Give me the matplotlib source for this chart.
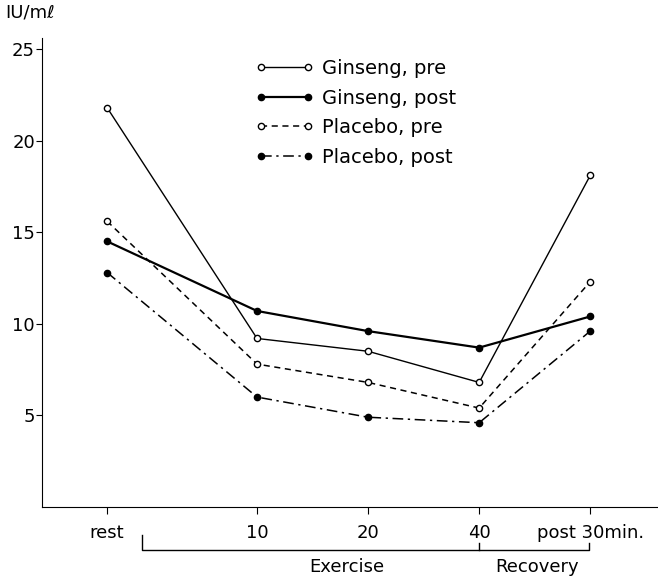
import matplotlib.pyplot as plt
from matplotlib.transforms import blended_transform_factory

# time points (x positions follow the uneven spacing in the original)
tick_labels = ['rest', '10', '20', '40', 'post 30min.']
x_pos = [0, 1.35, 2.35, 3.35, 4.35]

ginseng_pre = [21.8, 9.2, 8.5, 6.8, 18.1]
ginseng_post = [14.5, 10.7, 9.6, 8.7, 10.4]
placebo_pre = [15.6, 7.8, 6.8, 5.4, 12.3]
placebo_post = [12.8, 6.0, 4.9, 4.6, 9.6]

plt.rcParams['font.family'] = ['DejaVu Sans']

fig = plt.figure(figsize=(6.58, 5.83), dpi=100)
ax = fig.add_axes([42 / 658, 76 / 583, 616 / 658, 469 / 583])

ax.plot(x_pos, ginseng_pre, color='black', lw=1.0, ls='-', marker='o',
        ms=4.5, mfc='white', mec='black', mew=1.0, label='Ginseng, pre')
ax.plot(x_pos, ginseng_post, color='black', lw=1.6, ls='-', marker='o',
        ms=4.5, mfc='black', mec='black', label='Ginseng, post')
ax.plot(x_pos, placebo_pre, color='black', lw=1.1, ls=(0, (4, 3)), marker='o',
        ms=4.5, mfc='white', mec='black', mew=1.0, label='Placebo, pre')
ax.plot(x_pos, placebo_post, color='black', lw=1.1, ls=(0, (7, 3, 1.5, 3)),
        marker='o', ms=4.5, mfc='black', mec='black', label='Placebo, post')

ax.set_xlim(-0.586, 4.96)
ax.set_ylim(0, 25.6)
ax.set_yticks([5, 10, 15, 20, 25])
ax.set_xticks(x_pos)
ax.set_xticklabels(tick_labels)
ax.tick_params(axis='y', direction='out', length=4, pad=1, labelsize=13)
ax.tick_params(axis='x', direction='out', length=5, pad=7, labelsize=13)
ax.spines['top'].set_visible(False)
ax.spines['right'].set_visible(False)

leg = ax.legend(loc='upper left', bbox_to_anchor=(0.334, 0.972), frameon=False,
                fontsize=14, handlelength=3.0, handletextpad=0.4,
                labelspacing=0.55, borderaxespad=0, numpoints=2)

# bracket under the axis: Exercise / Recovery
tr = blended_transform_factory(ax.transData, ax.transAxes)
ax.plot([0.315, 0.315, 4.34, 4.34], [-0.06, -0.092, -0.092, -0.077],
        color='black', lw=1.0, transform=tr, clip_on=False)
ax.plot([3.35, 3.35], [-0.077, -0.092], color='black', lw=1.0,
        transform=tr, clip_on=False)
ax.text(2.16, -0.128, 'Exercise', transform=tr, ha='center', va='center',
        fontsize=13)
ax.text(3.87, -0.128, 'Recovery', transform=tr, ha='center', va='center',
        fontsize=13)

fig.text(0.008, 0.978, 'IU/mℓ', ha='left', va='center', fontsize=13)

fig.savefig('out.png', dpi=100)
